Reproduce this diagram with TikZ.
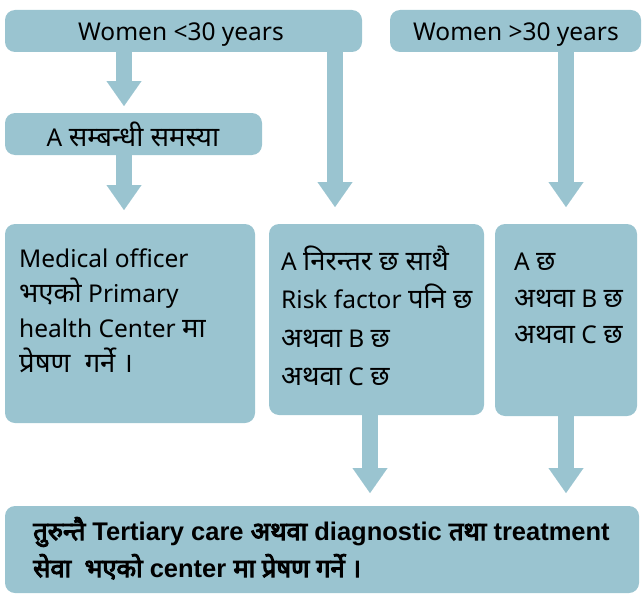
\documentclass[tikz,border=0pt]{standalone}
\usepackage{fontspec}
\setmainfont{Noto Sans}[Script=Devanagari]
\newfontfamily\devfont{Noto Sans}[Script=Devanagari,Scale=1.12]
\newfontfamily\bfontlat{Liberation Sans}
\newfontfamily\bfontdev{Noto Sans}[Script=Devanagari,FakeBold=4,Scale=1.0]
\newcommand\dv[1]{{\devfont #1}}
\newcommand\bdv[1]{{\bfontdev\mdseries #1}}
\usetikzlibrary{arrows.meta}
\definecolor{boxc}{RGB}{154,196,208}
\tikzset{
  box/.style={fill=boxc,draw=none,rounded corners=10pt,inner sep=0pt,outer sep=0pt,anchor=north west},
  txt/.style={font=\fontsize{24.5}{28}\selectfont,text=black},
  ln/.style={txt,anchor=base west,inner sep=0pt},
  bln/.style={font=\fontsize{25.5}{28}\selectfont\bfontlat\bfseries,anchor=base west,inner sep=0pt},
  arr/.style={draw=boxc,line width=16pt,-{Triangle[width=35pt,length=25pt,line width=0.01pt]},shorten <=-1pt}
}
\begin{document}
\begin{tikzpicture}[x=1pt,y=-1pt]
\useasboundingbox (0,0) rectangle (642,594);
% boxes
\node[box,minimum width=357pt,minimum height=42pt] (b1) at (5,10) {};
\node[box,minimum width=251pt,minimum height=42pt] (b2) at (390,10) {};
\node[box,minimum width=257pt,minimum height=42pt] (b3) at (5,113) {};
\node[box,minimum width=250pt,minimum height=199pt] (b4) at (5,224) {};
\node[box,minimum width=215pt,minimum height=191pt] (b5) at (269,224) {};
\node[box,minimum width=142pt,minimum height=192pt] (b6) at (495,224) {};
\node[box,minimum width=634pt,minimum height=87pt] (b7) at (5,506) {};
% centred texts
\node[txt,anchor=base] (t1) at (181,41) {Women <30 years};
\node[txt,anchor=base] (t2) at (516,41) {Women >30 years};
\node[txt,anchor=base] (t3) at (133,146) {A \dv{सम्बन्धी  समस्या}};
% box 4
\node[ln] (t41) at (19,267) {Medical officer};
\node[ln] (t42) at (19,302) {\dv{भएको} Primary};
\node[ln] (t43) at (19,337) {health Center \dv{मा}};
\node[ln] (t44) at (19,372) {\dv{प्रेषण\ \ गर्ने ।}};
% box 5
\node[ln] (t51) at (281,270) {A \dv{निरन्तर छ साथै}};
\node[ln] (t52) at (281,308) {Risk factor \dv{पनि छ}};
\node[ln] (t53) at (281,347) {\dv{अथवा} B \dv{छ}};
\node[ln] (t54) at (281,385) {\dv{अथवा} C \dv{छ}};
% box 6
\node[ln] (t61) at (514,270) {A \dv{छ}};
\node[ln] (t62) at (514,307) {\dv{अथवा} B \dv{छ}};
\node[ln] (t63) at (514,343) {\dv{अथवा} C \dv{छ}};
% box 7
\node[bln] (t71) at (33,540) {\bdv{तुरुन्तै} Tertiary care \bdv{अथवा} diagnostic \bdv{तथा} treatment};
\node[bln] (t72) at (33,577) {\bdv{सेवा\ \ भएको} center \bdv{मा प्रेषण गर्ने ।}};
% arrow columns
\coordinate (c1) at (124,0);
\coordinate (c3) at (335,0);
\coordinate (c4) at (566,0);
\coordinate (c5) at (370,0);
\draw[arr,shorten >=7pt] (b1.south -| c1) -- (b3.north -| c1);
\draw[arr,shorten >=14pt] (b3.south -| c1) -- (b4.north -| c1);
\draw[arr,shorten >=17pt] (b1.south -| c3) -- (b5.north -| c3);
\draw[arr,shorten >=17pt] (b2.south -| c4) -- (b6.north -| c4);
\draw[arr,shorten >=13pt] (b5.south -| c5) -- (b7.north -| c5);
\draw[arr,shorten >=13pt] (b6.south -| c4) -- (b7.north -| c4);
\end{tikzpicture}
\end{document}
